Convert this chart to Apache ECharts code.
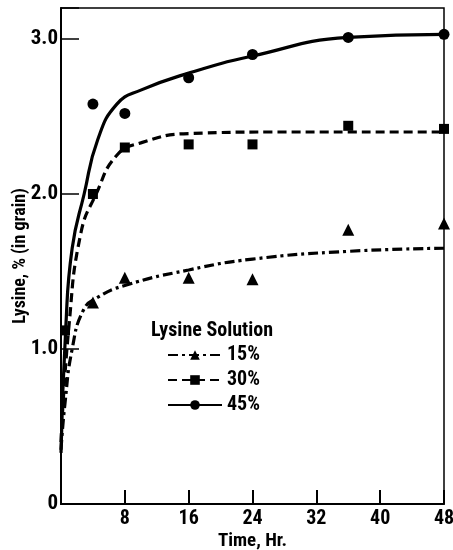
<!DOCTYPE html>
<html>
<head>
<meta charset="utf-8">
<script src="https://cdn.jsdelivr.net/npm/echarts@6/dist/echarts.min.js"></script>
<style>
  html, body { margin: 0; padding: 0; background: #fff; }
  #chart { width: 453px; height: 550px; }
</style>
</head>
<body>
<div id="chart"></div>
<script>
// measured points [hour, lysine %]
const pts15 = [[4, 1.30], [8, 1.46], [16, 1.46], [24, 1.45], [36, 1.77], [48, 1.81]];
const pts30 = [[0.5, 1.12], [4, 2.00], [8, 2.30], [16, 2.32], [24, 2.32], [36, 2.44], [48, 2.42]];
const pts45 = [[4, 2.58], [8, 2.52], [16, 2.75], [24, 2.90], [36, 3.01], [48, 3.03]];

// hand-drawn fitted curves
const curve15 = [[0, 0.35], [0.5, 0.65], [1.4, 1.0], [2.8, 1.25], [4.5, 1.33],
  [8, 1.41], [16, 1.51], [24, 1.58], [36, 1.63], [48, 1.65]];
const curve30 = [[0, 0.4], [1, 1.15], [2.5, 1.75], [4.4, 2.0], [7, 2.25],
  [10, 2.33], [16, 2.39], [28, 2.40], [48, 2.40]];
const curve45 = [[0, 0.33], [0.6, 1.14], [1.4, 1.65], [2.9, 2.0], [4.6, 2.35],
  [7, 2.58], [10, 2.67], [16, 2.78], [24, 2.89], [36, 3.01], [48, 3.03]];

const seriesNames = ['15%', '30%', '45%'];
const xTicks = [8, 16, 24, 32, 40, 48];

const font = '"Roboto Condensed", Roboto, sans-serif';
const ink = '#000';

const chart = echarts.init(document.getElementById('chart'));

const curveSeries = (name, data, symbol, dash) => ({
  name,
  type: 'line',
  data,
  smooth: 0.5,
  symbol,
  symbolSize: 11,
  showSymbol: false,
  silent: true,
  itemStyle: { color: ink },
  lineStyle: { color: ink, width: 3.2, type: dash },
  z: 2
});

const pointSeries = (name, data, symbol, size) => ({
  name,
  type: 'scatter',
  data,
  symbol,
  symbolSize: size,
  itemStyle: { color: ink, opacity: 1 },
  z: 3
});

const txt = (size, extra) => Object.assign({
  fontFamily: font, fontWeight: 'bold', fontSize: size, color: ink
}, extra || {});

chart.setOption({
  backgroundColor: '#fff',
  animation: false,
  textStyle: { fontFamily: font },
  title: {
    text: 'Lysine Solution',
    left: 146,
    top: 316,
    textStyle: txt(20)
  },
  legend: {
    data: seriesNames,
    orient: 'vertical',
    left: 162,
    top: 340,
    itemWidth: 54,
    itemHeight: 12,
    itemGap: 5,
    selectedMode: false,
    textStyle: txt(20, { lineHeight: 19 })
  },
  grid: {
    left: 61, right: 9, top: 8, bottom: 46,
    outerBoundsMode: 'none',
    show: true, borderColor: ink, borderWidth: 1.5
  },
  xAxis: {
    type: 'value',
    min: 0,
    max: 48,
    interval: 8,
    name: 'Time, Hr.',
    nameLocation: 'middle',
    nameGap: 28,
    nameMoveOverlap: false,
    nameTextStyle: txt(19),
    axisLine: { lineStyle: { color: ink, width: 2 } },
    axisTick: { inside: true, length: 14, lineStyle: { color: ink, width: 2 } },
    axisLabel: Object.assign(txt(20), {
      margin: 5,
      formatter: v => (xTicks.includes(v) ? String(v) : '')
    }),
    splitLine: { show: false }
  },
  yAxis: {
    type: 'value',
    min: 0,
    max: 3.2,
    interval: 1,
    name: 'Lysine, % (in grain)',
    nameLocation: 'middle',
    nameGap: 32,
    nameMoveOverlap: false,
    nameTextStyle: txt(18),
    axisLine: { lineStyle: { color: ink, width: 2 } },
    axisTick: { inside: true, length: 18, lineStyle: { color: ink, width: 1.5 } },
    axisLabel: Object.assign(txt(21), {
      margin: 3,
      formatter: v => (v === 0 ? '0' : Number.isInteger(v) ? v.toFixed(1) : '')
    }),
    splitLine: { show: false }
  },
  series: [
    curveSeries('15%', curve15, 'triangle', [10, 4, 3, 4]),
    curveSeries('30%', curve30, 'rect', [9, 5]),
    curveSeries('45%', curve45, 'circle', 'solid'),
    pointSeries('15%', pts15, 'triangle', 12),
    pointSeries('30%', pts30, 'rect', 10),
    pointSeries('45%', pts45, 'circle', 11)
  ]
});
</script>
</body>
</html>
